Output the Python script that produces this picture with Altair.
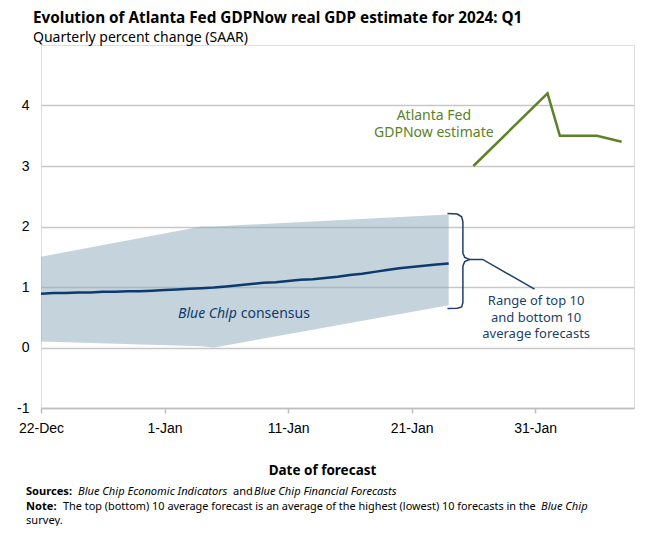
import altair as alt
import pandas as pd

START = pd.Timestamp("2023-12-22")

# Blue Chip consensus (daily) and the top/bottom 10 band
consensus_dates = pd.date_range("2023-12-22", "2024-01-24", freq="D")
consensus_values = [0.89, 0.90, 0.90, 0.91, 0.91, 0.92, 0.92, 0.93, 0.93, 0.94,
                    0.95, 0.96, 0.97, 0.98, 0.99, 1.01, 1.03, 1.05, 1.07, 1.08,
                    1.10, 1.12, 1.13, 1.15, 1.17, 1.20, 1.22, 1.25, 1.28, 1.31,
                    1.33, 1.35, 1.37, 1.39]

band_dates = ["2023-12-22", "2024-01-04", "2024-01-05", "2024-01-24"]
band_high = [1.5, 2.0, 2.0, 2.2]
band_low = [0.1, 0.02, 0.0, 0.7]

# Atlanta Fed GDPNow
gdpnow_dates = ["2024-01-26", "2024-02-01", "2024-02-02", "2024-02-05", "2024-02-07"]
gdpnow_values = [3.0, 4.2, 3.5, 3.5, 3.4]

# Axis
x_tick_dates = [(2023, 12, 22), (2024, 1, 1), (2024, 1, 11), (2024, 1, 21), (2024, 1, 31)]
y_ticks = [-1, 0, 1, 2, 3, 4]

# Brace annotation (days after 22-Dec, value)
brace_days = [32.9, 33.7, 34.05, 34.15, 34.15, 34.3, 34.7, 34.3, 34.15, 34.15, 34.05, 33.7, 32.9]
brace_vals = [2.215, 2.205, 2.16, 2.08, 1.56, 1.49, 1.455, 1.42, 1.35, 0.74, 0.67, 0.65, 0.645]
leader_days = [34.7, 35.75, 39.95]
leader_vals = [1.455, 1.455, 0.965]

GREEN = "#5b8228"
NAVY = "#0d3a6e"
ANN_NAVY = "#1c3f68"
FONT = "Noto Sans"
AXFONT = "Liberation Sans"
FOOT = 11.1

cons_df = pd.DataFrame({"date": consensus_dates, "value": consensus_values})
band_df = pd.DataFrame({"date": pd.to_datetime(band_dates), "low": band_low, "high": band_high})
gdp_df = pd.DataFrame({"date": pd.to_datetime(gdpnow_dates), "value": gdpnow_values})
brace_df = pd.DataFrame({"date": START + pd.to_timedelta(brace_days, unit="D"),
                         "value": brace_vals, "i": range(len(brace_days))})
leader_df = pd.DataFrame({"date": START + pd.to_timedelta(leader_days, unit="D"),
                          "value": leader_vals, "i": range(len(leader_days))})

x_scale = alt.Scale(domain=[alt.DateTime(year=2023, month=12, date=22),
                            alt.DateTime(year=2024, month=2, date=8)])
y_scale = alt.Scale(domain=[-1, 5], nice=False, zero=False)

x_axis = alt.Axis(values=[alt.DateTime(year=y, month=m, date=d) for y, m, d in x_tick_dates],
                  format="%-d-%b", labelFont=AXFONT, labelFontSize=14, labelColor="#000",
                  labelFlush=False, labelOverlap=False,
                  domainColor="#bfbfbf", domainWidth=1.5, tickColor="#bfbfbf", tickSize=5,
                  tickWidth=1.5, grid=False, labelPadding=8,
                  title="Date of forecast", titleFont=FONT, titleFontSize=13.5,
                  titleFontWeight="bold", titleColor="#000", titleX=281, titleY=62,
                  titleBaseline="middle", titleAlign="center")
y_axis = alt.Axis(values=y_ticks, labelExpr="'' + datum.value", labelFont=AXFONT,
                  labelFontSize=14, labelColor="#000",
                  domain=False, ticks=False, tickSize=0, labelPadding=12, grid=True,
                  gridColor="#c8c8c8", gridWidth=1.5, title=None)

band = alt.Chart(band_df).mark_area(color="#8ba7b9", opacity=0.5).encode(
    x=alt.X("date:T", scale=x_scale, axis=x_axis),
    y=alt.Y("low:Q", scale=y_scale, axis=y_axis),
    y2="high:Q",
)
cons = alt.Chart(cons_df).mark_line(color=NAVY, strokeWidth=2.5).encode(
    x="date:T", y="value:Q")
gdp = alt.Chart(gdp_df).mark_line(color=GREEN, strokeWidth=2.5).encode(
    x="date:T", y="value:Q")
brace = alt.Chart(brace_df).mark_line(color=ANN_NAVY, strokeWidth=1.5).encode(
    x="date:T", y="value:Q", order="i:Q")
leader = alt.Chart(leader_df).mark_line(color=ANN_NAVY, strokeWidth=1.5).encode(
    x="date:T", y="value:Q", order="i:Q")


def data_text(days, value, text, color, size, align="center", style="normal", weight="normal"):
    df = pd.DataFrame({"date": [START + pd.Timedelta(days=days)], "value": [value], "t": [text]})
    return alt.Chart(df).mark_text(color=color, fontSize=size, font=FONT, align=align,
                                   baseline="middle", fontStyle=style, fontWeight=weight).encode(
        x="date:T", y="value:Q", text="t:N")


def px_text(x, y, text, size, weight="normal", style="normal", color="#000", align="left",
            baseline="middle", font=FONT):
    return alt.Chart(pd.DataFrame({"a": [0]})).mark_text(
        text=text, fontSize=size, fontWeight=weight, fontStyle=style, color=color,
        align=align, baseline=baseline, font=font).encode(x=alt.value(x), y=alt.value(y))


texts = [
    data_text(31.8, 3.83, "Atlanta Fed", GREEN, 14),
    data_text(31.8, 3.55, "GDPNow estimate", GREEN, 14),
    data_text(15.85, 0.56, "Blue Chip", NAVY, 14, align="right", style="italic"),
    data_text(16.17, 0.56, "consensus", NAVY, 14, align="left"),
    data_text(40.08, 0.765, "Range of top 10", ANN_NAVY, 13),
    data_text(40.08, 0.49, "and bottom 10", ANN_NAVY, 13),
    data_text(40.08, 0.215, "average forecasts", ANN_NAVY, 13),
    # title / subtitle
    px_text(-8, -22, "Evolution of Atlanta Fed GDPNow real GDP estimate for 2024: Q1", 15.3,
            weight="bold", baseline="alphabetic"),
    px_text(-8, -3, "Quarterly percent change (SAAR)", 14, baseline="alphabetic"),
    # footer
    px_text(-15, 447, "Sources:", FOOT, weight="bold"),
    px_text(37, 447, "Blue Chip Economic Indicators", FOOT, style="italic"),
    px_text(192, 447, "and", FOOT),
    px_text(213, 447, "Blue Chip Financial Forecasts", FOOT, style="italic"),
    px_text(-15, 462, "Note:", FOOT, weight="bold"),
    px_text(22, 462, "The top (bottom) 10 average forecast is an average of the highest (lowest) 10 forecasts in the", 10.9),
    px_text(500, 462, "Blue Chip", FOOT, style="italic"),
    px_text(-15, 476, "survey.", FOOT),
]

chart = alt.layer(band, cons, gdp, brace, leader, *texts).properties(
    width=593, height=363,
    autosize=alt.AutoSizeParams(type="none"),
    padding={"left": 33, "top": 37, "right": 8, "bottom": 118},
).configure_view(stroke=None).configure(background="white")

chart.save("out.html", embed_options={"renderer": "svg", "actions": False})
